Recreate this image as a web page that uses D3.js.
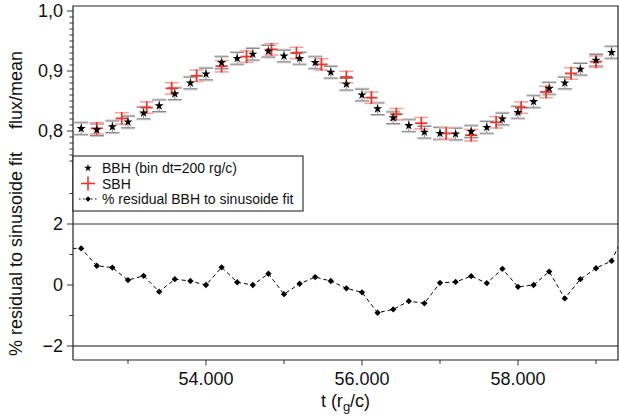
<!DOCTYPE html>
<html>
<head>
<meta charset="utf-8">
<script src="https://cdn.jsdelivr.net/npm/d3@7"></script>
<style>
  body { margin: 0; background: #fff; }
  svg { font-family: "Liberation Sans", Arial, Helvetica, sans-serif; }
</style>
</head>
<body>
<svg id="chart" width="619" height="418"></svg>
<script>
// BBH light curve, bins of 200 rg/c
const bbhTime = [52400, 52600, 52800, 53000, 53200, 53400, 53600, 53800, 54000, 54200,
  54400, 54600, 54800, 55000, 55200, 55400, 55600, 55800, 56000, 56200,
  56400, 56600, 56800, 57000, 57200, 57400, 57600, 57800, 58000, 58200,
  58400, 58600, 58800, 59000, 59200];
const bbhFlux = [0.804, 0.802, 0.807, 0.815, 0.830, 0.842, 0.862, 0.880, 0.895, 0.914,
  0.921, 0.928, 0.933, 0.925, 0.921, 0.914, 0.898, 0.878, 0.860, 0.837,
  0.822, 0.809, 0.798, 0.796, 0.795, 0.799, 0.806, 0.820, 0.831, 0.849,
  0.871, 0.880, 0.903, 0.918, 0.931];

// SBH light curve
const sbhTime = [52600, 52920, 53240, 53560, 53880, 54200, 54520, 54840, 55160, 55480,
  55800, 56120, 56440, 56760, 57080, 57400, 57720, 58040, 58360, 58680, 59000];
const sbhFlux = [0.8045, 0.821, 0.839, 0.871, 0.892, 0.908, 0.924, 0.936, 0.930, 0.911,
  0.890, 0.8555, 0.828, 0.813, 0.796, 0.793, 0.8145, 0.839, 0.865, 0.896, 0.9155];

// % residual BBH to sinusoide fit
const resTime = [52200, 52400, 52600, 52800, 53000, 53200, 53400, 53600, 53800, 54000,
  54200, 54400, 54600, 54800, 55000, 55200, 55400, 55600, 55800, 56000,
  56200, 56400, 56600, 56800, 57000, 57200, 57400, 57600, 57800, 58000,
  58200, 58400, 58600, 58800, 59000, 59200, 59400];
const resValue = [1.2, 1.2, 0.63, 0.57, 0.16, 0.30, -0.22, 0.19, 0.13, 0.0,
  0.58, 0.09, 0.0, 0.37, -0.30, 0.04, 0.26, 0.13, -0.11, -0.24,
  -0.91, -0.80, -0.53, -0.60, 0.07, 0.10, 0.29, 0.06, 0.53, -0.06,
  0.0, 0.44, -0.44, 0.19, 0.55, 0.79, 1.9];

const xMajor = [54000, 56000, 58000];
const xMinor = [53000, 55000, 57000, 59000];
const topMajor = [0.8, 0.9, 1.0];
const botMajor = [-2, 0, 2];
const botMinor = [-1, 1, 3];

const svg = d3.select('#chart');
const pL = 73, pR = 618, pT = 6, pB = 360;

const x = d3.scaleLinear().domain([52295, 59282]).range([pL, pR]);
const yTop = d3.scaleLinear().domain([0.8, 1.0]).range([131, 11]);
const yBot = d3.scaleLinear().domain([-2, 2]).range([346, 224]);

const fmtX = (d) => d3.format(',')(d).replace(',', '.');
const fmtTop = (d) => d3.format('.1f')(d).replace('.', ',');

svg.append('clipPath').attr('id', 'plotclip')
  .append('rect')
  .attr('x', pL).attr('y', pT)
  .attr('width', pR - pL).attr('height', pB - pT);

// reference lines at +/-2
svg.append('line')
  .attr('x1', pL).attr('x2', pR)
  .attr('y1', yBot(2)).attr('y2', yBot(2))
  .attr('stroke', '#7a7a7a').attr('stroke-width', 1.6);
svg.append('line')
  .attr('x1', pL).attr('x2', pR)
  .attr('y1', yBot(-2)).attr('y2', yBot(-2))
  .attr('stroke', '#111').attr('stroke-width', 1.2);

const plot = svg.append('g').attr('clip-path', 'url(#plotclip)');

// BBH error bars
const bbh = bbhTime.map((t, i) => ({ t, v: bbhFlux[i] }));
const bbhG = plot.append('g');
bbhG.selectAll('line.vbar').data(bbh).enter().append('line')
  .attr('x1', (d) => x(d.t)).attr('x2', (d) => x(d.t))
  .attr('y1', (d) => yTop(d.v - 0.009)).attr('y2', (d) => yTop(d.v + 0.009))
  .attr('stroke', '#8a8a8a').attr('stroke-width', 1);
[-0.0095, 0.0095].forEach((off) => {
  bbhG.selectAll(null).data(bbh).enter().append('line')
    .attr('x1', (d) => x(d.t - 90)).attr('x2', (d) => x(d.t + 90))
    .attr('y1', (d) => yTop(d.v + off) + (off > 0 ? -0.8 : 0.8))
    .attr('y2', (d) => yTop(d.v + off) + (off > 0 ? -0.8 : 0.8))
    .attr('stroke', '#c4c4c4').attr('stroke-width', 1.6);
  bbhG.selectAll(null).data(bbh).enter().append('line')
    .attr('x1', (d) => x(d.t - 90)).attr('x2', (d) => x(d.t + 90))
    .attr('y1', (d) => yTop(d.v + off)).attr('y2', (d) => yTop(d.v + off))
    .attr('stroke', '#8a8a8a').attr('stroke-width', 1);
});

// SBH crosses
const sbh = sbhTime.map((t, i) => ({ t, v: sbhFlux[i] }));
const sbhG = plot.append('g');
[-0.0095, 0.0095].forEach((off) => {
  sbhG.selectAll(null).data(sbh).enter().append('line')
    .attr('x1', (d) => x(d.t - 90)).attr('x2', (d) => x(d.t + 90))
    .attr('y1', (d) => yTop(d.v + off)).attr('y2', (d) => yTop(d.v + off))
    .attr('stroke', '#f5a3a0').attr('stroke-width', 1.6);
});
sbhG.selectAll('line.sv').data(sbh).enter().append('line')
  .attr('x1', (d) => x(d.t)).attr('x2', (d) => x(d.t))
  .attr('y1', (d) => yTop(d.v - 0.0105)).attr('y2', (d) => yTop(d.v + 0.0105))
  .attr('stroke', '#e8372c').attr('stroke-width', 1.8);
sbhG.selectAll('line.sh').data(sbh).enter().append('line')
  .attr('x1', (d) => x(d.t - 78)).attr('x2', (d) => x(d.t + 78))
  .attr('y1', (d) => yTop(d.v)).attr('y2', (d) => yTop(d.v))
  .attr('stroke', '#e8372c').attr('stroke-width', 1.8);

// BBH stars
const star = d3.symbol(d3.symbolStar).size(26);
plot.append('g').selectAll('path').data(bbh).enter().append('path')
  .attr('d', star)
  .attr('transform', (d) => `translate(${x(d.t)},${yTop(d.v)})`)
  .attr('fill', '#000');

// residuals
const res = resTime.map((t, i) => ({ t, v: resValue[i] }));
plot.append('path').datum(res)
  .attr('d', d3.line().x((d) => x(d.t)).y((d) => yBot(d.v)))
  .attr('fill', 'none').attr('stroke', '#000').attr('stroke-width', 1)
  .attr('stroke-dasharray', '4,3');
const diamond = d3.symbol(d3.symbolSquare).size(20);
plot.append('g').selectAll('path').data(res).enter().append('path')
  .attr('d', diamond)
  .attr('transform', (d) => `translate(${x(d.t)},${yBot(d.v)}) rotate(45)`)
  .attr('fill', '#000');

// frame
svg.append('path')
  .attr('d', `M${pL},${pB}V${pT}H${pR}V${pB}H${pL}`)
  .attr('fill', 'none').attr('stroke', '#222').attr('stroke-width', 1.2);

// y axis ticks, top panel
const topMinor = [];
for (let k = 75; k <= 100; k++) if (k % 10 !== 0) topMinor.push(k / 100);
svg.append('g').selectAll('line').data(topMinor).enter().append('line')
  .attr('x1', pL - 3.5).attr('x2', pL)
  .attr('y1', (d) => yTop(d)).attr('y2', (d) => yTop(d))
  .attr('stroke', '#333').attr('stroke-width', 1);
svg.append('g').selectAll('line').data(topMajor).enter().append('line')
  .attr('x1', pL - 6).attr('x2', pL)
  .attr('y1', (d) => yTop(d)).attr('y2', (d) => yTop(d))
  .attr('stroke', '#333').attr('stroke-width', 1);
svg.append('g').selectAll('text').data(topMajor).enter().append('text')
  .attr('x', 63).attr('y', (d) => yTop(d)).attr('dy', '0.36em')
  .attr('text-anchor', 'end').attr('font-size', 18).attr('fill', '#111')
  .text(fmtTop);

// y axis ticks, bottom panel
svg.append('g').selectAll('line').data(botMinor).enter().append('line')
  .attr('x1', pL - 3.5).attr('x2', pL)
  .attr('y1', (d) => yBot(d)).attr('y2', (d) => yBot(d))
  .attr('stroke', '#333').attr('stroke-width', 1);
svg.append('g').selectAll('line').data(botMajor).enter().append('line')
  .attr('x1', pL - 6).attr('x2', pL)
  .attr('y1', (d) => yBot(d)).attr('y2', (d) => yBot(d))
  .attr('stroke', '#333').attr('stroke-width', 1);
svg.append('g').selectAll('text').data(botMajor).enter().append('text')
  .attr('x', 63).attr('y', (d) => yBot(d)).attr('dy', '0.36em')
  .attr('text-anchor', 'end').attr('font-size', 18).attr('fill', '#111')
  .text((d) => (d < 0 ? '\u2212' + Math.abs(d) : d));

// x axis
svg.append('g').selectAll('line').data(xMinor).enter().append('line')
  .attr('x1', (d) => x(d)).attr('x2', (d) => x(d))
  .attr('y1', pB).attr('y2', pB + 4)
  .attr('stroke', '#333').attr('stroke-width', 1);
svg.append('g').selectAll('line').data(xMajor).enter().append('line')
  .attr('x1', (d) => x(d)).attr('x2', (d) => x(d))
  .attr('y1', pB).attr('y2', pB + 5.5)
  .attr('stroke', '#333').attr('stroke-width', 1);
svg.append('g').selectAll('text').data(xMajor).enter().append('text')
  .attr('x', (d) => x(d)).attr('y', 385)
  .attr('text-anchor', 'middle').attr('font-size', 18).attr('fill', '#111')
  .text(fmtX);

const xl = svg.append('text')
  .attr('x', (pL + pR) / 2).attr('y', 407)
  .attr('text-anchor', 'middle').attr('font-size', 18).attr('fill', '#111');
xl.append('tspan').text('t (r');
xl.append('tspan').attr('font-size', 13).attr('dy', 4).text('g');
xl.append('tspan').attr('dy', -4).text('/c)');

svg.append('text')
  .attr('transform', 'translate(22,90) rotate(-90)')
  .attr('text-anchor', 'middle').attr('font-size', 18).attr('fill', '#111')
  .text('flux/mean');
svg.append('text')
  .attr('transform', 'translate(22,254) rotate(-90)')
  .attr('text-anchor', 'middle').attr('font-size', 18).attr('fill', '#111')
  .text('% residual to sinusoide fit');

// legend
const legendItems = ['BBH (bin dt=200 rg/c)', 'SBH', '% residual BBH to sinusoide fit'];
const lg = svg.append('g');
lg.append('rect')
  .attr('x', pL).attr('y', 156).attr('width', 230).attr('height', 55)
  .attr('fill', '#fff').attr('stroke', '#111').attr('stroke-width', 1);
legendItems.forEach((label, i) => {
  const cy = 168 + i * 15.5;
  lg.append('text')
    .attr('x', 102).attr('y', cy).attr('dy', '0.36em')
    .attr('font-size', 14).attr('fill', '#111')
    .text(label);
});
lg.append('path').attr('d', d3.symbol(d3.symbolStar).size(18))
  .attr('transform', 'translate(88,168)').attr('fill', '#000');
lg.append('line').attr('x1', 81).attr('x2', 95).attr('y1', 183.5).attr('y2', 183.5)
  .attr('stroke', '#e8372c').attr('stroke-width', 1.6);
lg.append('line').attr('x1', 88).attr('x2', 88).attr('y1', 176.5).attr('y2', 190.5)
  .attr('stroke', '#e8372c').attr('stroke-width', 1.6);
lg.append('line').attr('x1', 79).attr('x2', 98).attr('y1', 199).attr('y2', 199)
  .attr('stroke', '#000').attr('stroke-width', 1).attr('stroke-dasharray', '1.5,2.5');
lg.append('path').attr('d', d3.symbol(d3.symbolSquare).size(16))
  .attr('transform', 'translate(88,199) rotate(45)').attr('fill', '#000');
</script>
</body>
</html>
